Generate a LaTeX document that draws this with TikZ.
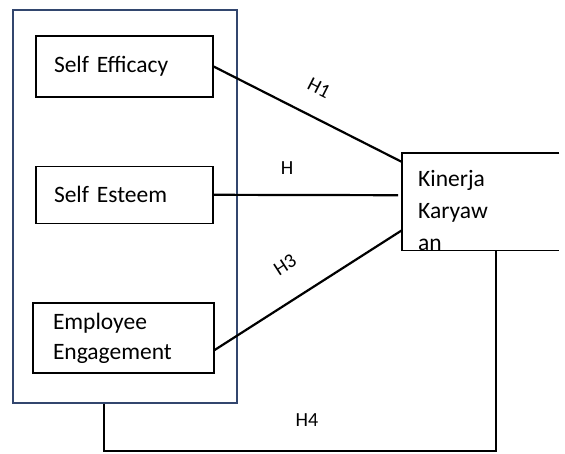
\documentclass[tikz,border=0pt]{standalone}
\usepackage{fontspec}
\setmainfont{Carlito}
\definecolor{groupblue}{RGB}{50, 70, 110}
\usepackage{tikz}
\usetikzlibrary{positioning, calc}

\begin{document}
\begin{tikzpicture}[x=1pt, y=-1pt,
    varbox/.style={draw, line width=1.3pt, inner sep=0pt, text width=141pt, align=left,
      font=\fontsize{23.5}{30}\selectfont},
    link/.style={line width=2.2pt},
    hlabel/.style={font=\fontsize{20}{24}\selectfont, inner sep=0pt}]
  \path[use as bounding box, fill=white] (0,0) rectangle (565,453);

  % Independent variables
  \node[draw=groupblue, line width=1.3pt, minimum width=224pt, minimum height=393pt] (group) at (125,206.5) {};
  \node[varbox, minimum width=177pt, minimum height=61pt] (efficacy) at (124.5,66.5) {Self Efficacy};
  \node[varbox, minimum width=177pt, minimum height=57pt] (esteem) at (124.5,194.8) {Self Esteem};
  \node[varbox, minimum width=181pt, minimum height=70pt] (engage) at (123.5,338) {Employee\\Engagement};

  % Dependent variable (box runs off the right edge)
  \node[anchor=north west, minimum width=157pt, minimum height=97pt, inner sep=0pt] (kinerja) at (402,153) {};
  \draw[line width=1.3pt] (kinerja.north east) -- (kinerja.north west) -- (kinerja.south west) -- (kinerja.south east);
  \node[anchor=base west, inner sep=0pt, text width=100pt, align=left,
    font=\fontsize{23.5}{32}\selectfont] (kinerjatext) at (418,186) {Kinerja\\Karyaw\\an};

  % Hypotheses
  \draw[link] (efficacy.east) -- ($(kinerja.north west)+(0,9)$);
  \draw[link] (esteem.east) -- ($(kinerja.west)+(-4,-6.5)$);
  \draw[link] ($(engage.east)+(0,12)$) -- ($(kinerja.west)+(0,28.5)$);

  \coordinate (loopleft) at (104,451);
  \coordinate (loopright) at (496,451);
  \draw[link] (group.south -| loopleft) -- (loopleft) -- (loopright) -- (kinerja.south -| loopright);

  \node[hlabel, rotate=-27] (hone) at (319,88) {H1};
  \node[hlabel] (htwo) at (287,168) {H};
  \node[hlabel, rotate=33] (hthree) at (285,265) {H3};
  \node[hlabel] (hfour) at (307,420) {H4};
\end{tikzpicture}
\end{document}
